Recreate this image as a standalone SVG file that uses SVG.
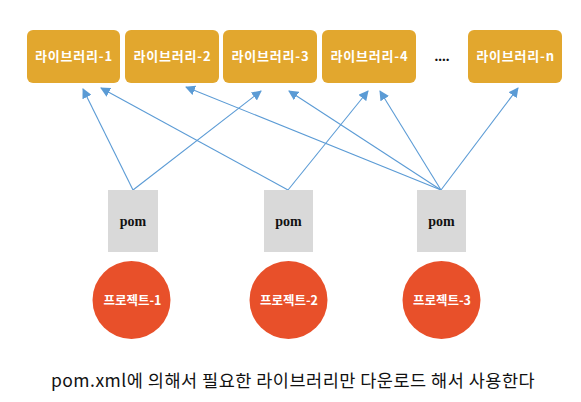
<svg xmlns="http://www.w3.org/2000/svg" width="581" height="402" viewBox="0 0 581 402">
<style>
.lib rect{fill:#E2A72E;}
.lib text{fill:#fff;font-family:"Noto Sans CJK KR","Liberation Serif",sans-serif;font-weight:bold;font-size:13px;letter-spacing:0.8px;text-anchor:middle;}
.pom rect{fill:#D9D9D9;}
.pom text{fill:#111;font-family:"Liberation Serif",serif;font-weight:bold;font-size:14px;text-anchor:middle;}
.proj circle{fill:#E8502A;}
.proj text{fill:#fff;font-family:"Noto Sans CJK KR",sans-serif;font-weight:bold;font-size:12.5px;text-anchor:middle;}
.conn line{stroke:#5B9BD5;stroke-width:1.1;marker-end:url(#ah);}
.caption{fill:#111;font-family:"Noto Sans CJK KR",sans-serif;font-size:17.5px;letter-spacing:0.5px;text-anchor:middle;}
</style>
<defs>
<marker id="ah" viewBox="0 0 10 10" refX="9" refY="5" markerWidth="10" markerHeight="10" markerUnits="userSpaceOnUse" orient="auto">
<path d="M0,0 L10,5 L0,10 z" fill="#5B9BD5"/>
</marker>
</defs>
<rect width="581" height="402" fill="#fff"/>
<g id="lib1" class="lib"><rect x="27" y="30" width="93" height="53" rx="6"/><text x="74" y="61">라이브러리-1</text></g>
<g id="lib2" class="lib"><rect x="125" y="30" width="94" height="53" rx="6"/><text x="172.5" y="61">라이브러리-2</text></g>
<g id="lib3" class="lib"><rect x="223" y="30" width="94" height="53" rx="6"/><text x="270.5" y="61">라이브러리-3</text></g>
<g id="lib4" class="lib"><rect x="322" y="30" width="94" height="53" rx="6"/><text x="369.5" y="61">라이브러리-4</text></g>
<g id="dots"><text x="442" y="61" font-family="Liberation Serif,serif" font-weight="bold" font-size="15" text-anchor="middle" fill="#111">....</text></g>
<g id="libn" class="lib"><rect x="468" y="30" width="94" height="53" rx="6"/><text x="515.5" y="61">라이브러리-n</text></g>
<g id="connectors" class="conn">
<line x1="133" y1="190" x2="83" y2="89"/>
<line x1="133" y1="190" x2="261" y2="91"/>
<line x1="288" y1="190" x2="101" y2="88"/>
<line x1="288" y1="190" x2="368" y2="91"/>
<line x1="441" y1="190" x2="186" y2="87"/>
<line x1="441" y1="190" x2="289" y2="91"/>
<line x1="441" y1="190" x2="380" y2="91"/>
<line x1="441" y1="190" x2="518" y2="88"/>
</g>
<g id="pom1" class="pom"><rect x="108" y="190" width="50" height="62"/><text x="133" y="226">pom</text></g>
<g id="pom2" class="pom"><rect x="264" y="190" width="49" height="62"/><text x="288.5" y="226">pom</text></g>
<g id="pom3" class="pom"><rect x="417" y="190" width="49" height="62"/><text x="441.5" y="226">pom</text></g>
<g id="proj1" class="proj"><circle cx="131.5" cy="300" r="39"/><text x="132.5" y="305">프로젝트-1</text></g>
<g id="proj2" class="proj"><circle cx="288.5" cy="300" r="39"/><text x="289" y="305">프로젝트-2</text></g>
<g id="proj3" class="proj"><circle cx="441.5" cy="300" r="39"/><text x="442" y="305">프로젝트-3</text></g>
<text class="caption" x="293" y="387">pom.xml에 의해서 필요한 라이브러리만 다운로드 해서 사용한다</text>
</svg>
